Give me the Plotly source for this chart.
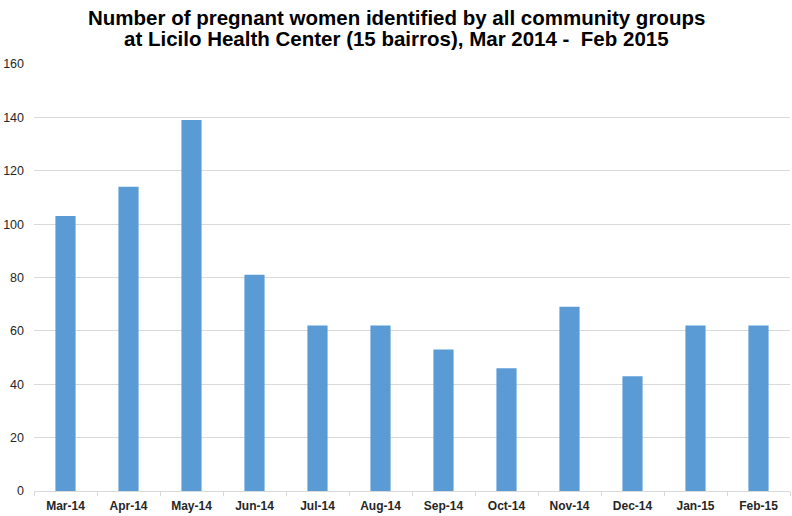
import plotly.graph_objects as go

months = ["Mar-14", "Apr-14", "May-14", "Jun-14", "Jul-14", "Aug-14",
          "Sep-14", "Oct-14", "Nov-14", "Dec-14", "Jan-15", "Feb-15"]
pregnant_women = [103, 114, 139, 81, 62, 62, 53, 46, 69, 43, 62, 62]
y_ticks = [0, 20, 40, 60, 80, 100, 120, 140, 160]
title_lines = ["Number of pregnant women identified by all community groups",
               "at Licilo Health Center (15 bairros), Mar 2014 -  Feb 2015"]

fig = go.Figure(go.Bar(x=months, y=pregnant_women, marker_color="#5B9BD5",
                       marker_line_width=0, width=0.32))

title_font = dict(family="Liberation Sans Narrow, Arial Narrow, Liberation Sans, Arial",
                  size=20.5, color="black")
for line, shift in zip(title_lines, [47, 26]):
    fig.add_annotation(text="<b>" + line + "</b>", xref="paper", yref="paper",
                       x=0.479, y=1, xanchor="center", yanchor="middle",
                       yshift=shift, showarrow=False, font=title_font)

fig.update_layout(
    width=792, height=516,
    margin=dict(l=34, r=2, t=64, b=25, autoexpand=False),
    paper_bgcolor="white", plot_bgcolor="white",
    showlegend=False,
    xaxis=dict(
        tickfont=dict(family="Liberation Sans, Arial", size=12, color="#262626", weight="bold"),
        showline=True, linecolor="#d9d9d9", linewidth=1,
        ticks="outside", tickson="boundaries", ticklen=4, tickcolor="#d9d9d9",
        showgrid=False, automargin=False, ticklabelstandoff=4,
    ),
    yaxis=dict(
        range=[0, 160], tickvals=y_ticks,
        tickfont=dict(family="Liberation Sans, Arial", size=12.5, color="#262626"),
        showgrid=True, gridcolor="#d9d9d9", gridwidth=1,
        zeroline=False, showline=False, ticks="",
        ticklabelstandoff=9, automargin=False,
    ),
)

fig.write_html("out.html", config={"displayModeBar": False},
               post_script="document.body.style.margin='0';")
